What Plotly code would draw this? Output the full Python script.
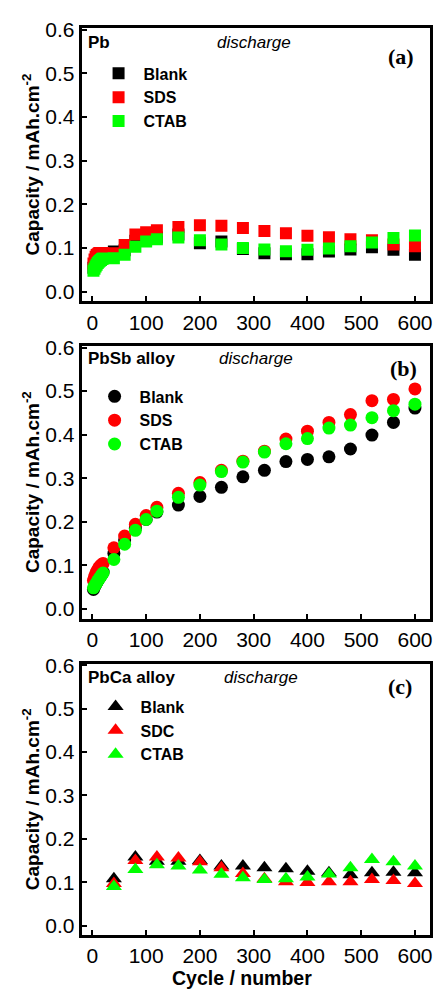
import plotly.graph_objects as go

# ---------------- data ----------------
x_ab = [2, 4, 6, 8, 10, 12, 14, 16, 18, 20, 40, 60, 80, 100, 120, 160, 200, 240,
        280, 320, 360, 400, 440, 480, 520, 560, 600]

a_blank = [0.055, 0.063, 0.070, 0.075, 0.078, 0.080, 0.082, 0.083, 0.084, 0.085, 0.092,
           0.095, 0.117, 0.120, 0.124, 0.131, 0.111, 0.115, 0.098, 0.088, 0.086, 0.086,
           0.092, 0.097, 0.102, 0.096, 0.085]
a_sds = [0.065, 0.074, 0.080, 0.084, 0.086, 0.088, 0.089, 0.089, 0.089, 0.089, 0.088,
         0.107, 0.131, 0.136, 0.141, 0.148, 0.152, 0.151, 0.146, 0.139, 0.134, 0.128,
         0.125, 0.120, 0.118, 0.108, 0.104]
a_ctab = [0.048, 0.053, 0.058, 0.062, 0.066, 0.069, 0.071, 0.073, 0.075, 0.076, 0.077,
          0.085, 0.103, 0.115, 0.120, 0.124, 0.118, 0.108, 0.100, 0.097, 0.093, 0.096,
          0.099, 0.104, 0.113, 0.123, 0.129]

b_blank = [0.044, 0.050, 0.055, 0.060, 0.064, 0.068, 0.072, 0.076, 0.080, 0.084, 0.127,
           0.158, 0.185, 0.205, 0.222, 0.238, 0.258, 0.279, 0.303, 0.318, 0.338, 0.343,
           0.349, 0.367, 0.399, 0.428, 0.461]
b_sds = [0.065, 0.074, 0.080, 0.085, 0.090, 0.094, 0.097, 0.100, 0.102, 0.104, 0.140,
         0.167, 0.194, 0.214, 0.233, 0.265, 0.290, 0.318, 0.339, 0.362, 0.390, 0.408,
         0.428, 0.446, 0.478, 0.481, 0.505]
b_ctab = [0.048, 0.052, 0.056, 0.060, 0.064, 0.068, 0.071, 0.075, 0.079, 0.082, 0.113,
          0.148, 0.180, 0.205, 0.224, 0.256, 0.284, 0.315, 0.337, 0.360, 0.379, 0.391,
          0.415, 0.422, 0.439, 0.455, 0.470]

x_c = [40, 80, 120, 160, 200, 240, 280, 320, 360, 400, 440, 480, 520, 560, 600]
c_blank = [0.108, 0.158, 0.148, 0.148, 0.150, 0.137, 0.137, 0.133, 0.131, 0.125, 0.122,
           0.117, 0.122, 0.123, 0.122]
c_sdc = [0.097, 0.150, 0.158, 0.156, 0.147, 0.133, 0.120, 0.108, 0.101, 0.099, 0.101,
         0.101, 0.106, 0.104, 0.097]
c_ctab = [0.090, 0.129, 0.140, 0.137, 0.128, 0.118, 0.110, 0.106, 0.108, 0.112, 0.119,
          0.133, 0.152, 0.147, 0.137]

x_ticks = [0, 100, 200, 300, 400, 500, 600]
y_ticks = [0.0, 0.1, 0.2, 0.3, 0.4, 0.5, 0.6]
y_tick_text = ["0.0", "0.1", "0.2", "0.3", "0.4", "0.5", "0.6"]

colors = {"Blank": "#000000", "SDS": "#ff0000", "SDC": "#ff0000", "CTAB": "#00ff00"}

W, H = 436, 991
SANS = "Liberation Sans, Arial"

panels = [
    dict(x=x_ab, series=[("Blank", a_blank), ("SDS", a_sds), ("CTAB", a_ctab)],
         symbol="square", size=12, frame=(18, 295), yrange=[-0.022, 0.604],
         label="Pb", lab_y=33, dis_x=255, tag="(a)", tag_x=403, tag_y=47,
         leg_x=119, leg_y=64),
    dict(x=x_ab, series=[("Blank", b_blank), ("SDS", b_sds), ("CTAB", b_ctab)],
         symbol="circle", size=13, frame=(340, 616), yrange=[-0.0227, 0.604],
         label="PbSb alloy", lab_y=353, dis_x=257, tag="(b)", tag_x=405, tag_y=363,
         leg_x=115, leg_y=391),
    dict(x=x_c, series=[("Blank", c_blank), ("SDC", c_sdc), ("CTAB", c_ctab)],
         symbol="triangle-up", size=14, frame=(662, 936), yrange=[-0.021, 0.603],
         label="PbCa alloy", lab_y=676, dis_x=262, tag="(c)", tag_x=402, tag_y=685,
         leg_x=116, leg_y=705),
]

fig = go.Figure()
annotations = []
x_dom = [82 / W, 432 / W]

for i, p in enumerate(panels):
    k = "" if i == 0 else str(i + 1)
    leg = "legend" + k
    for name, vals in p["series"]:
        fig.add_trace(go.Scatter(
            x=p["x"], y=vals, mode="markers", name=name,
            marker=dict(symbol=p["symbol"], size=p["size"], color=colors[name],
                        line=dict(width=0)),
            xaxis="x" + k, yaxis="y" + k, legend=leg, showlegend=True))
    top, bot = p["frame"]
    ydom = [1 - bot / H, 1 - top / H]
    axis_common = dict(showline=True, linecolor="black", linewidth=3, mirror=True,
                       ticks="inside", ticklen=5, tickwidth=2, tickcolor="black",
                       showgrid=False, zeroline=False,
                       tickfont=dict(family=SANS, size=21, color="black"))
    fig.update_layout(**{
        "xaxis" + k: dict(domain=x_dom, range=[-20, 628], tickvals=x_ticks,
                          anchor="y" + k, **axis_common),
        "yaxis" + k: dict(domain=ydom, range=p["yrange"], tickvals=y_ticks,
                          ticktext=y_tick_text, anchor="x" + k, **axis_common),
        leg: dict(x=(p["leg_x"] - 25) / W, y=1 - (p["leg_y"] - 17) / H,
                  xanchor="left", yanchor="top", bgcolor="rgba(0,0,0,0)",
                  itemwidth=40, tracegroupgap=0,
                  font=dict(family=SANS, size=16, color="black", weight="bold")),
    })
    annotations.append(dict(
        text="<b>Capacity / mAh.cm<sup>-2</sup></b>", xref="paper", yref="paper",
        x=31 / W, y=1 - (top + bot) / 2 / H, textangle=-90, showarrow=False,
        xanchor="center", yanchor="middle",
        font=dict(family=SANS, size=19, color="black")))
    annotations.append(dict(
        text="<b>" + p["label"] + "</b>", xref="paper", yref="paper",
        x=86 / W, y=1 - p["lab_y"] / H, showarrow=False, xanchor="left", yanchor="middle",
        font=dict(family=SANS, size=17, color="black")))
    annotations.append(dict(
        text="<i>discharge</i>", xref="paper", yref="paper",
        x=p["dis_x"] / W, y=1 - p["lab_y"] / H, showarrow=False, xanchor="center",
        yanchor="middle",
        font=dict(family=SANS, size=17, color="black")))
    annotations.append(dict(
        text="<b>" + p["tag"] + "</b>", xref="paper", yref="paper",
        x=p["tag_x"] / W, y=1 - p["tag_y"] / H, showarrow=False, xanchor="center",
        yanchor="middle",
        font=dict(family="Liberation Serif, Times New Roman", size=22, color="black")))

annotations.append(dict(
    text="<b>Cycle / number</b>", xref="paper", yref="paper",
    x=243 / W, y=1 - 980 / H, showarrow=False, xanchor="center", yanchor="middle",
    font=dict(family=SANS, size=19.5, color="black")))

fig.update_layout(
    width=W, height=H, autosize=False,
    margin=dict(l=0, r=0, t=0, b=0),
    paper_bgcolor="white", plot_bgcolor="white",
    annotations=annotations,
)

fig.write_html("out.html", config={"displayModeBar": False},
               post_script="document.body.style.margin='0';"
                           "document.body.style.overflow='hidden';")
